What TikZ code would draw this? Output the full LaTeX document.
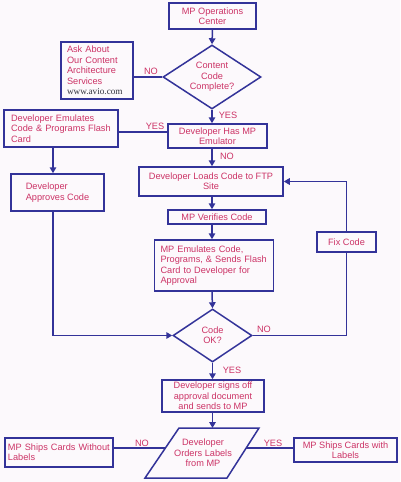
\documentclass[tikz,border=0pt]{standalone}
\usepackage{fontspec}
\setmainfont{Liberation Sans}
\newfontfamily\wwwfont{Liberation Serif}
\usetikzlibrary{shapes.geometric,arrows.meta,calc}
\definecolor{bord}{RGB}{51,51,153}
\definecolor{txt}{RGB}{204,51,102}
\definecolor{bg}{RGB}{252,249,252}
\definecolor{wwwc}{RGB}{50,50,60}
\begin{document}
\begin{tikzpicture}[x=1pt,y=-1pt,
  box/.style={draw=bord, line width=1.5pt, text=txt, font=\fontsize{9.2}{10.4}\selectfont, inner sep=0pt, align=center},
  dia/.style={box, diamond, aspect=1.5},
  lbl/.style={text=txt, font=\fontsize{9.2}{10.4}\selectfont, inner sep=0pt},
  conn/.style={draw=bord, line width=1.5pt},
  arr/.style={conn, -{Triangle[length=6pt,width=6.5pt]}}]
\useasboundingbox (0,0) rectangle (400,482);
\fill[bg] (0,0) rectangle (400,482);

% nodes
\node[box, minimum width=87pt, minimum height=26pt] (ops) at (212.5,16) {MP Operations\\Center};
\node[dia, minimum width=98pt, minimum height=64pt] (d1) at (212,77) {Content\\Code\\Complete?};
\node[box, minimum width=72pt, minimum height=57pt, align=left, text width=60pt] (ask) at (97,70.5)
  {Ask About\\Our Content\\Architecture\\Services\\{\wwwfont\color{wwwc}www.avio.com}};
\node[box, minimum width=99pt, minimum height=24pt] (emu) at (217.5,136) {Developer Has MP\\Emulator};
\node[box, minimum width=114pt, minimum height=37pt, align=left, text width=100pt] (devemu) at (61,128.5)
  {Developer Emulates\\Code \& Programs Flash\\Card};
\node[box, minimum width=93pt, minimum height=37pt, align=left] (approves) at (57.5,192.5) {Developer\\Approves Code};
\node[box, minimum width=144pt, minimum height=29pt] (loads) at (211,181.5) {Developer Loads Code to FTP\\Site};
\node[box, minimum width=98pt, minimum height=14pt] (verifies) at (217,217) {MP Verifies Code};
\node[box, minimum width=119pt, minimum height=51pt, align=left, text width=107pt] (mpemu) at (214,265.5)
  {MP Emulates Code,\\Programs, \& Sends Flash\\Card to Developer for\\Approval};
\node[dia, minimum width=79pt, minimum height=53pt] (d2) at (212.5,335.5) {Code\\OK?};
\node[box, minimum width=59pt, minimum height=20pt] (fix) at (346.5,242) {Fix Code};
\node[box, minimum width=102pt, minimum height=32pt] (signs) at (213,396) {Developer signs off\\approval document\\and sends to MP};
% parallelogram
\coordinate (pTL) at (179,428);
\coordinate (pTR) at (259,428);
\coordinate (pBR) at (227,478);
\coordinate (pBL) at (145,478);
\draw[conn] (pTL) -- (pTR) -- (pBR) -- (pBL) -- cycle;
\node[lbl, align=center] (orders) at (203,453) {Developer\\Orders Labels\\from MP};
\node[box, minimum width=108pt, minimum height=29pt, align=left, text width=102pt] (noship) at (59,452.5)
  {MP Ships Cards Without\\Labels};
\node[box, minimum width=103pt, minimum height=24pt] (yesship) at (345.5,450) {MP Ships Cards with\\Labels};

% connectors
\draw[arr] (ops.south) -- (d1.north);
\draw[conn] (d1.west) -- (d1.west -| ask.east);
\node[lbl] (l1) at (151,71) {NO};
\draw[arr] (d1.south) -- (d1.south |- emu.north);
\node[lbl] (l2) at (228,115) {YES};
\draw[conn] ([yshift=4pt]emu.west) -- ([yshift=4pt]emu.west -| devemu.east);
\node[lbl] (l3) at (155,126) {YES};
\draw[arr] ([xshift=-8pt]devemu.south) -- ([xshift=-8pt]devemu.south |- approves.north);
\draw[arr] ([xshift=-4.5pt]approves.south) |- (d2.west);
\draw[arr] (d1.south |- emu.south) -- (d1.south |- loads.north);
\node[lbl] (l4) at (227,156) {NO};
\draw[arr] (d1.south |- loads.south) -- (d1.south |- verifies.north);
\draw[arr] (d1.south |- verifies.south) -- (d1.south |- mpemu.north);
\draw[arr] (d1.south |- mpemu.south) -- (d2.north);
\draw[conn] (d2.east) -| (fix.south);
\node[lbl] (l5) at (264,329) {NO};
\draw[arr] (fix.north) |- (loads.east);
\draw[arr] (d2.south) -- (d2.south |- signs.north);
\node[lbl] (l6) at (232,370) {YES};
\draw[arr] (d2.south |- signs.south) -- (d2.south |- pTL);
\coordinate (oL) at ($(pBL)!0.6!(pTL)$);
\coordinate (oR) at ($(pBR)!0.6!(pTR)$);
\draw[conn] (oL) -- (oL -| noship.east);
\node[lbl] (l7) at (142,443) {NO};
\draw[conn] (oR) -- (oR -| yesship.west);
\node[lbl] (l8) at (273,443) {YES};
\end{tikzpicture}
\end{document}
